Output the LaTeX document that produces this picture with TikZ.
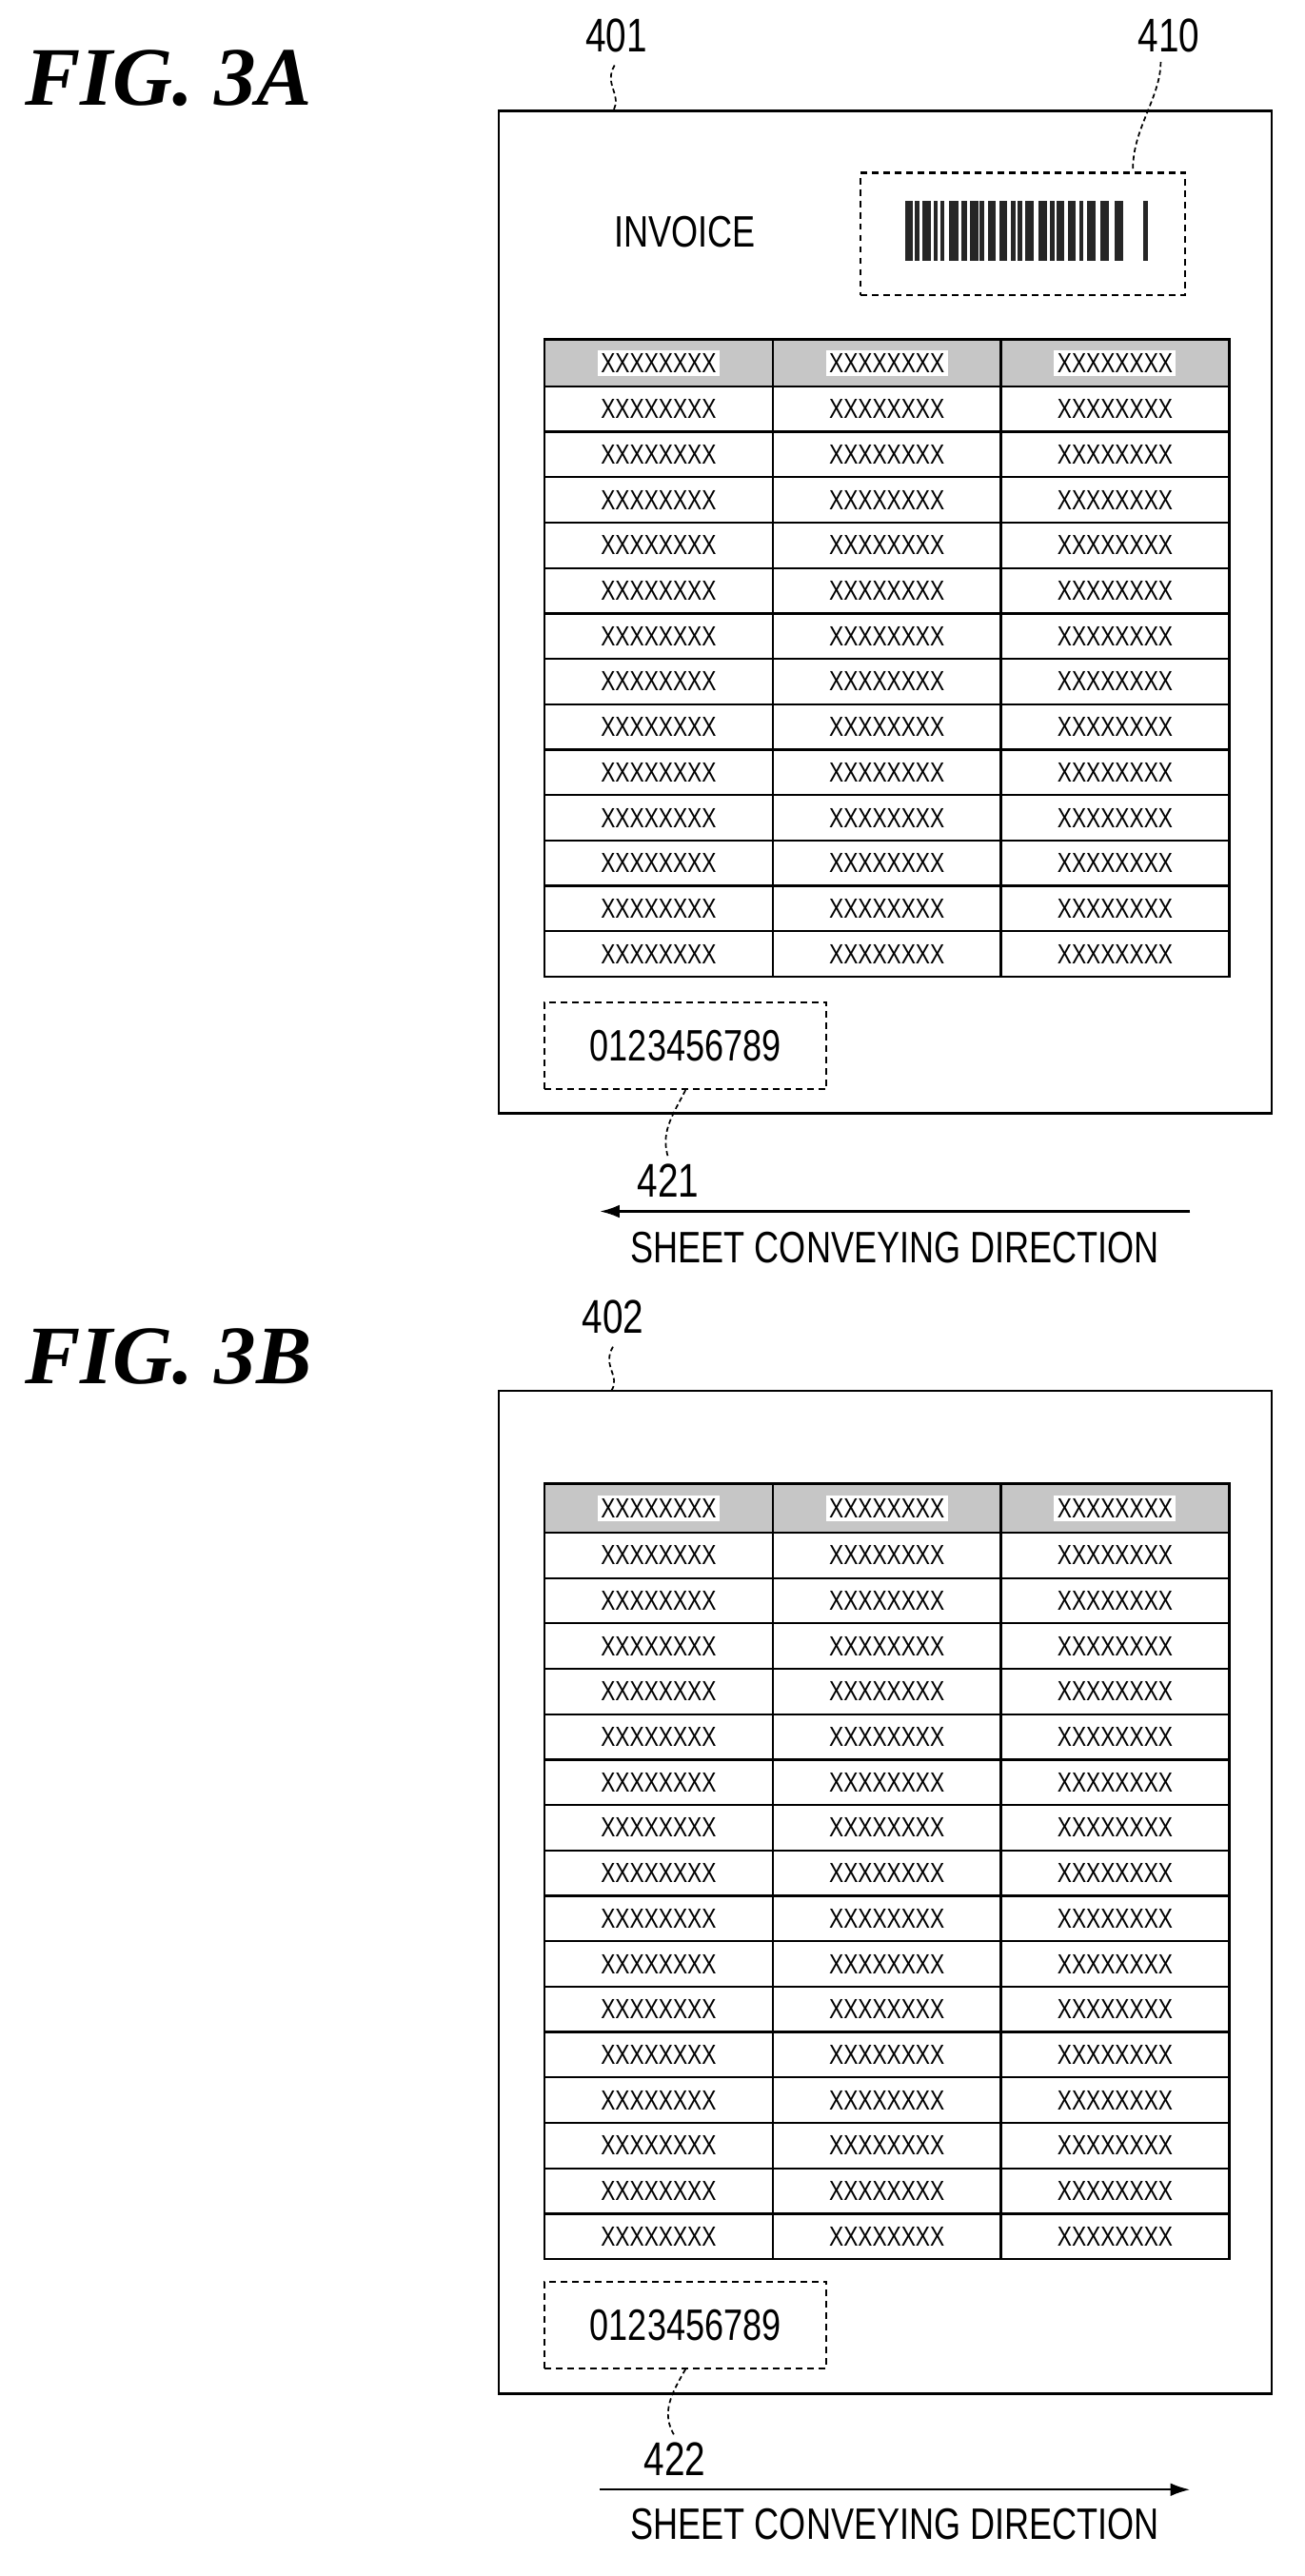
\documentclass[tikz,border=0pt]{standalone}
\usepackage{fontspec}
\setmainfont{Liberation Sans}[FakeStretch=0.78]
\newfontfamily\figfont{Liberation Serif}
\begin{document}
\begin{tikzpicture}[x=1pt,y=-1pt,
  sheet/.style={draw,line width=1.6pt},
  dbox/.style={draw,dash pattern=on 4pt off 3pt,line width=1.3pt},
  lead/.style={line width=1pt,dash pattern=on 3pt off 2pt},
  cell/.style={font=\fontsize{17}{17}\selectfont},
  ref/.style={font=\fontsize{29}{29}\selectfont},
  lbl/.style={font=\fontsize{27}{27}\selectfont},
  fig/.style={font=\figfont\bfseries\itshape\fontsize{51}{51}\selectfont,anchor=west},
  arr/.style={line width=1.3pt,-{Latex[length=12pt,width=8pt]}}]
\usetikzlibrary{arrows.meta}
\useasboundingbox (0,0) rectangle (800,1580);
\newcommand{\mytable}[3]{% top, header bottom, nrows
  \fill[gray!45] (334,#1) rectangle (754,#2);
  \foreach \c in {404,544,684}{
    \node[cell,fill=white,inner sep=2pt] at (\c,{(#1+#2)/2}) {XXXXXXXX};}
  \pgfmathsetmacro{\rh}{27.85}
  \foreach \i in {1,...,#3}{
    \pgfmathsetmacro{\yy}{#2+(\i-0.5)*\rh}
    \foreach \c in {404,544,684}{\node[cell] at (\c,\yy) {XXXXXXXX};}
    \draw[line width=1.3pt] (334,{#2+\i*\rh}) -- (754,{#2+\i*\rh});}
  \draw[line width=1.6pt] (334,#1) rectangle (754,{#2+#3*\rh});
  \draw[line width=1.3pt] (334,#2) -- (754,#2);
  \foreach \x in {474,614}{\draw[line width=1.3pt] (\x,#1) -- (\x,{#2+#3*\rh});}
}
% ---------- FIG 3A
\node[fig] (f3a) at (12,48) {FIG. 3A};
\draw[sheet] (306,68) rectangle (780,683);
\node[ref] (n401) at (378,22) {401};
\draw[lead] (377,40) .. controls (370,52) and (382,58) .. (376,68);
\node[lbl] (inv) at (420,142) {INVOICE};
\node[dbox,minimum width=199pt,minimum height=75pt] (bc) at (627.5,143.5) {};
\foreach \x/\w in {555/5,561/3,566/5,573/2,577/2.5,582/6,590/3,595/5,601/2.5,606/5,613/5,620/3,624/3,629/5,637/5,644/3,648/5,655/5,662/2.5,667/5,675/5,684/5,701/3}
  \fill[black!85] (\x,123) rectangle ++(\w,37);
\node[ref] (n410) at (717,22) {410};
\draw[lead] (712,38) .. controls (712,60) and (694,80) .. (bc.north -| 695,0);
\mytable{208}{237}{13}
\node[dbox,minimum width=173pt,minimum height=53pt] (num1) at (420.5,641.5) {};
\node[lbl] at (num1) {0123456789};
\node[ref] (n421) at (410,724) {421};
\draw[lead] (num1.south) .. controls (412,685) and (405,695) .. (n421.north);
\coordinate (a1s) at (730,743);
\coordinate (a1e) at (368,743);
\draw[arr] (a1s) -- (a1e);
\node[lbl] (t1) at (549,765) {SHEET CONVEYING DIRECTION};
% ---------- FIG 3B
\node[fig] (f3b) at (12,832) {FIG. 3B};
\draw[sheet] (306,853) rectangle (780,1468);
\node[ref] (n402) at (376,808) {402};
\draw[lead] (376,826) .. controls (369,838) and (381,844) .. (375,853);
\mytable{910}{940}{16}
\node[dbox,minimum width=173pt,minimum height=53pt] (num2) at (420.5,1426) {};
\node[lbl] at (num2) {0123456789};
\node[ref] (n422) at (414,1508) {422};
\draw[lead] (num2.south) .. controls (412,1468) and (405,1480) .. (n422.north);
\coordinate (a2s) at (368,1527);
\coordinate (a2e) at (730,1527);
\draw[arr] (a2s) -- (a2e);
\node[lbl] (t2) at (549,1548) {SHEET CONVEYING DIRECTION};
\end{tikzpicture}
\end{document}
